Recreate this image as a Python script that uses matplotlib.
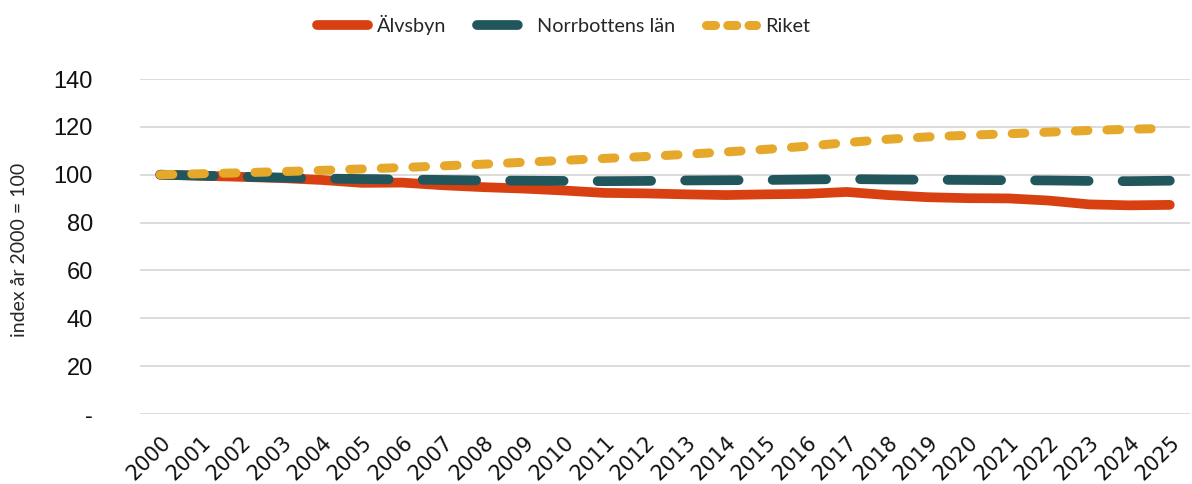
import matplotlib
matplotlib.use("Agg")
import matplotlib.pyplot as plt
from matplotlib.lines import Line2D
import numpy as np

years = [str(y) for y in range(2000, 2026)]
alvsbyn = [100, 99.6, 99.1, 98.6, 97.8, 96.6, 96.7, 95.6, 94.8, 94.2, 93.4, 92.4, 92.2, 91.8, 91.5, 91.8, 92.0, 92.8, 91.5, 90.6, 90.2, 90.1, 89.2, 87.6, 87.2, 87.4]
norrbotten = [100, 99.6, 99.2, 98.8, 98.4, 98.2, 98.0, 97.8, 97.6, 97.5, 97.4, 97.3, 97.4, 97.6, 97.7, 97.8, 98.0, 98.2, 98.0, 97.9, 97.8, 97.7, 97.6, 97.4, 97.3, 97.5]
riket = [100, 100.4, 100.8, 101.3, 101.8, 102.4, 103.0, 103.7, 104.4, 105.2, 106.0, 106.8, 107.6, 108.5, 109.5, 110.6, 111.9, 113.4, 114.8, 115.8, 116.5, 117.1, 117.8, 118.5, 119.0, 119.4]
series_names = ["Älvsbyn", "Norrbottens län", "Riket"]
yticks = [0, 20, 40, 60, 80, 100, 120, 140]
ytick_labels = ["-", "20", "40", "60", "80", "100", "120", "140"]

RED = "#d84012"
TEAL = "#20565c"
GOLD = "#e5a82a"
THIN = ["Lato", "DejaVu Sans"]

fig = plt.figure(figsize=(11.92, 4.84), dpi=100)
ax = fig.add_axes([140 / 1192, 1 - 414 / 484, 1050 / 1192, 335 / 484])
x = np.arange(len(years))

ax.plot(x, alvsbyn, color=RED, lw=7, solid_capstyle="round", zorder=3)
ax.plot(x, norrbotten, color=TEAL, lw=7, dash_capstyle="round", dashes=(5.5, 3.5), zorder=4)
ax.plot(x, riket, color=GOLD, lw=6.5, dash_capstyle="round", dashes=(1.4, 2.1), zorder=5)

ax.set_xlim(-0.5, len(years) - 0.5)
ax.set_ylim(0, 140)
ax.set_yticks(yticks)
ax.set_yticklabels(ytick_labels, fontsize=17, family="Liberation Sans", color="#111111")
ax.set_xticks(x)
ax.set_xticklabels(years, rotation=45, ha="right", rotation_mode="anchor",
                   fontsize=15, family="DejaVu Sans", color="#111111")
ax.tick_params(length=0)
ax.tick_params(axis="y", pad=34)
ax.tick_params(axis="x", pad=13)
ax.grid(axis="y", color="#d9d9d9", lw=1.3)
ax.set_axisbelow(True)
for s in ax.spines.values():
    s.set_visible(False)

fig.text(20 / 1192, 1 - 250 / 484, "index år 2000 = 100", rotation=90, va="center", ha="center",
         fontsize=14, family=THIN, color="#262626")

# legend proxies so the dash patterns look like the original keys
handles = [
    Line2D([], [], color=RED, lw=7, solid_capstyle="round"),
    Line2D([], [], color=TEAL, lw=7, dash_capstyle="round", dashes=(4.2, 3)),
    Line2D([], [], color=GOLD, lw=6.5, dash_capstyle="round", dashes=(1.0, 1.35)),
]
leg = fig.legend(handles, series_names, loc="center", bbox_to_anchor=(0.473, 1 - 25 / 484),
                 ncol=3, frameon=False, prop={"family": THIN, "size": 14.3},
                 handlelength=2.55, columnspacing=1.55, handletextpad=0.45)
for t in leg.get_texts():
    t.set_color("#262626")

fig.savefig("out.png", dpi=100)
